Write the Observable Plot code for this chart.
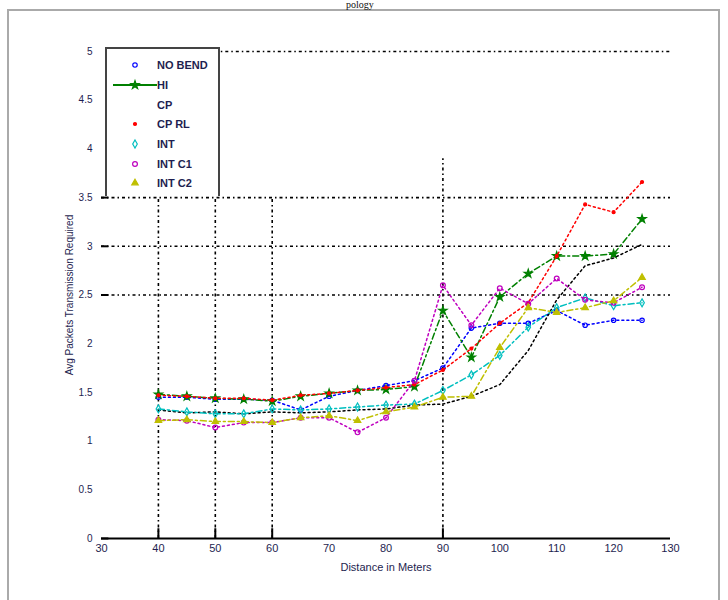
<!DOCTYPE html>
<html><head><meta charset="utf-8">
<script src="https://cdn.jsdelivr.net/npm/d3@7"></script>
<script src="https://cdn.jsdelivr.net/npm/@observablehq/plot@0.6"></script>
<style>
body{margin:0;background:#fff;font-family:"Liberation Sans",Arial,sans-serif;}
#wrap{position:relative;width:728px;height:600px;overflow:hidden;background:#fff}
#frame{position:absolute;left:7px;top:9px;width:713px;height:600px;border:2px solid #aaa;border-bottom:none;box-sizing:border-box}
#title{position:absolute;top:0px;left:346px;font-family:"Liberation Serif",serif;font-size:10px;line-height:10px;color:#111;white-space:nowrap}
#chart{position:absolute;left:0;top:0}
#legend{position:absolute;left:105px;top:47px;width:115px;height:149px;background:#fff;border:2px solid #444;border-bottom:none;box-sizing:border-box}
.row{position:absolute;left:0;height:14px;font-size:11px;font-weight:bold;color:#1e1e50;line-height:14px}
.row svg{position:absolute;left:6px;top:0}
.row span{position:absolute;left:50px;top:0;white-space:nowrap}
</style></head>
<body><div id="wrap"><div id="frame"></div><div id="title">pology</div><div id="chart"></div><div id="legend"></div></div>
<script>
const distance = [40,45,50,55,60,65,70,75,80,85,90,95,100,105,110,115,120,125];
const seriesNames = ["NO BEND","HI","CP","CP RL","INT","INT C1","INT C2"];
const noBend = [1.45,1.45,1.43,1.43,1.42,1.32,1.46,1.52,1.57,1.62,1.75,2.16,2.21,2.21,2.34,2.19,2.24,2.24];
const hi     = [1.48,1.46,1.44,1.43,1.41,1.46,1.49,1.52,1.53,1.56,2.34,1.86,2.48,2.72,2.90,2.90,2.92,3.28];
const cp     = [1.32,1.29,1.30,1.28,1.30,1.29,1.30,1.32,1.33,1.37,1.38,1.46,1.58,1.93,2.45,2.80,2.88,3.02];
const cpRl   = [1.47,1.46,1.44,1.44,1.42,1.47,1.49,1.52,1.55,1.58,1.73,1.95,2.21,2.42,2.90,3.43,3.35,3.66];
const intS   = [1.33,1.30,1.28,1.28,1.33,1.32,1.33,1.35,1.37,1.38,1.52,1.68,1.88,2.17,2.37,2.47,2.39,2.42];
const intC1  = [1.22,1.21,1.14,1.19,1.19,1.24,1.24,1.09,1.24,1.62,2.60,2.19,2.57,2.41,2.67,2.45,2.42,2.58];
const intC2  = [1.21,1.22,1.20,1.20,1.19,1.24,1.26,1.21,1.30,1.35,1.45,1.46,1.96,2.37,2.32,2.37,2.44,2.68];
const xTicks = [30,40,50,60,70,80,90,100,110,120,130];
const yTicks = [0,0.5,1,1.5,2,2.5,3,3.5,4,4.5,5];
const gridXShort = [40,50,60];
const gridYs = [2.5,3,3.5];
const axisTickX = [40,50,60,90];
const axisTickY = [0,2.5,3,3.5];

const styles = [
  {color:"#0000ff", dash:"2,3", symbol:"circle", r:2.2, fill:"none"},
  {color:"#008000", dash:"6,3,2,3", symbol:"star", r:2.6, fill:"#008000"},
  {color:"#000000", dash:"2,3", symbol:null},
  {color:"#ff0000", dash:"2,3", symbol:"circle", r:1.5, fill:"#ff0000"},
  {color:"#00bfbf", dash:"6,3,2,3", symbol:"diamond", r:2.4, fill:"none"},
  {color:"#bf00bf", dash:"2,3", symbol:"circle", r:2.4, fill:"none"},
  {color:"#bfbf00", dash:"6,3,2,3", symbol:"triangle", r:2.4, fill:"#bfbf00"}
];
const values = [noBend, hi, cp, cpRl, intS, intC1, intC2];
const rows = seriesNames.flatMap((n,k)=>distance.map((d,i)=>({series:n, k, x:d, y:values[k][i]})));

const gridDash = "3,3,1.5,3";
const textColor = "#1e1e50";
const marks = [
  Plot.ruleX(gridXShort, {y1:0, y2:3.5, stroke:"#000", strokeWidth:1.6, strokeDasharray:gridDash}),
  Plot.ruleX([90], {y1:0, y2:3.9, stroke:"#000", strokeWidth:1.6, strokeDasharray:gridDash}),
  Plot.ruleY(gridYs, {x1:30, x2:130, stroke:"#000", strokeWidth:1.6, strokeDasharray:gridDash}),
  Plot.ruleY([5], {x1:50, x2:130, stroke:"#000", strokeWidth:1.6, strokeDasharray:gridDash}),
  Plot.ruleY([0], {x1:30, x2:130, stroke:"#000", strokeWidth:2}),
  Plot.ruleX(axisTickX, {y1:0, y2:0.1, stroke:"#000", strokeWidth:2}),
  Plot.ruleY(axisTickY, {x1:30, x2:31.3, stroke:"#000", strokeWidth:2}),
  Plot.axisX({ticks:xTicks, tickSize:0, tickPadding:6, fontSize:11, color:textColor, label:"Distance in Meters", labelAnchor:"center", labelArrow:"none", labelOffset:32, tickFormat:d=>String(d)}),
  Plot.axisY({ticks:yTicks, tickSize:0, tickPadding:9, fontSize:10, color:textColor, label:"Avg Packets Transmission Required", labelAnchor:"center", labelArrow:"none", labelOffset:36, tickFormat:d=>String(d)})
];
seriesNames.forEach((n,k)=>{
  const s = styles[k];
  const data = rows.filter(r=>r.k===k);
  marks.push(Plot.line(data, {x:"x", y:"y", stroke:s.color, strokeWidth:1.5, strokeDasharray:s.dash}));
  if (s.symbol) marks.push(Plot.dot(data, {x:"x", y:"y", symbol:s.symbol, r:s.r, stroke:s.color, fill:s.fill, strokeWidth:1.2}));
});

const plot = Plot.plot({
  width:728, height:600,
  marginLeft:101, marginRight:58, marginTop:51, marginBottom:62,
  x:{domain:[30,130]},
  y:{domain:[0,5]},
  style:{background:"transparent", fontFamily:"Liberation Sans, Arial, sans-serif", overflow:"visible"},
  marks
});
document.getElementById("chart").appendChild(plot);

// Legend
const legend = document.getElementById("legend");
const rowTops = [9, 29, 49, 68, 88, 108, 127];
const symMap = {circle:d3.symbolCircle, star:d3.symbolStar, diamond:d3.symbolDiamond, triangle:d3.symbolTriangle};
seriesNames.forEach((n,k)=>{
  const s = styles[k];
  const div = document.createElement("div");
  div.className = "row";
  div.style.top = rowTops[k] + "px";
  let inner = `<svg width="44" height="14">`;
  if (k===1) inner += `<line x1="0" y1="7" x2="44" y2="7" stroke="${s.color}" stroke-width="1.8"/>`;
  if (s.symbol) {
    const area = Math.PI * s.r * s.r;
    const p = d3.symbol(symMap[s.symbol], area)();
    inner += `<path transform="translate(22,7)" d="${p}" stroke="${s.color}" fill="${s.fill}" stroke-width="1.2"/>`;
  }
  inner += `</svg><span>${n}</span>`;
  div.innerHTML = inner;
  legend.appendChild(div);
});
</script></body></html>
